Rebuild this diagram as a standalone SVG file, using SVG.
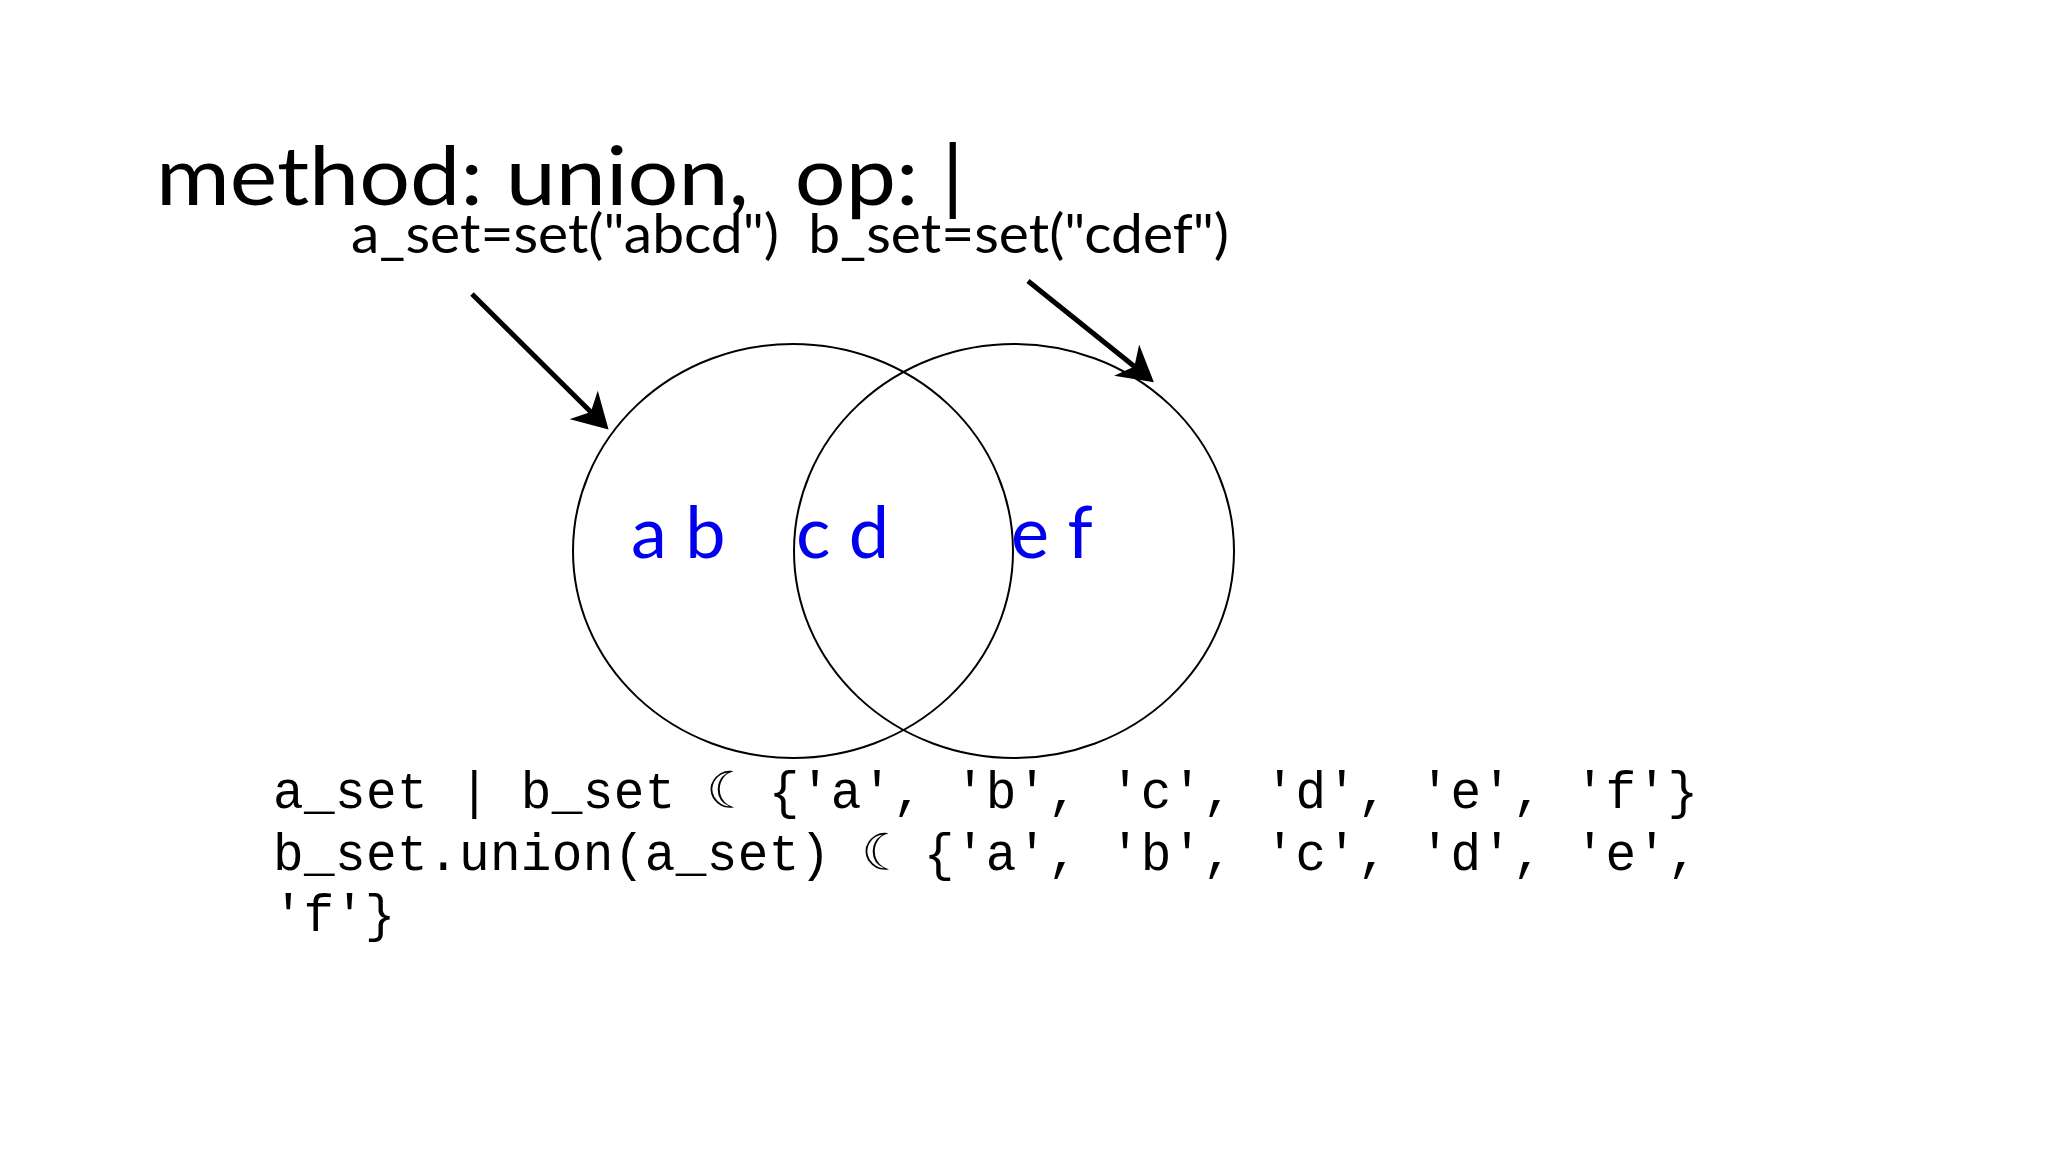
<svg xmlns="http://www.w3.org/2000/svg" width="2048" height="1152" viewBox="0 0 2048 1152">
<style>
.t{font-family:Lato,"Liberation Sans",sans-serif;fill:#000}
.b{font-family:Lato,"Liberation Sans",sans-serif;fill:#0000ee;font-size:72px}
.c{font-family:"Liberation Mono","DejaVu Sans Mono",monospace;font-size:51px;fill:#000;white-space:pre}
.ring{fill:none;stroke:#000;stroke-width:2}
.arr{stroke:#000;stroke-width:5;fill:none;marker-end:url(#ah)}
</style>
<defs><marker id="ah" markerWidth="8" markerHeight="8" refX="6" refY="4" orient="auto" markerUnits="strokeWidth"><path d="M0,0 L7,4 L0,8 L2,4 Z" fill="#000"/></marker></defs>
<rect width="2048" height="1152" fill="#fff"/>
<g id="title"><text class="t" x="156" y="205" font-size="82" xml:space="preserve" textLength="808" lengthAdjust="spacingAndGlyphs">method: union,  op: |</text></g>
<g id="subtitle"><text class="t" x="351" y="253" font-size="54" xml:space="preserve" textLength="878" lengthAdjust="spacingAndGlyphs">a_set=set("abcd")  b_set=set("cdef")</text></g>
<g id="setA"><ellipse class="ring" cx="793" cy="551" rx="220" ry="207"/></g>
<g id="setB"><ellipse class="ring" cx="1014" cy="551" rx="220" ry="207"/></g>
<g id="labels">
<text class="b" x="631" y="558">a b</text>
<text class="b" x="796" y="558">c d</text>
<text class="b" x="1011" y="558">e f</text>
</g>
<g id="connectors">
<line class="arr" x1="472" y1="294" x2="605" y2="426"/>
<line class="arr" x1="1028" y1="281" x2="1150" y2="379"/>
</g>
<g id="code">
<text class="c" x="273" y="808" xml:space="preserve" textLength="1425" lengthAdjust="spacing">a_set | b_set ☾ {'a', 'b', 'c', 'd', 'e', 'f'}</text>
<text class="c" x="273" y="870" xml:space="preserve" textLength="1425" lengthAdjust="spacing">b_set.union(a_set) ☾ {'a', 'b', 'c', 'd', 'e',</text>
<text class="c" x="273" y="931" xml:space="preserve">'f'}</text>
</g>
</svg>
